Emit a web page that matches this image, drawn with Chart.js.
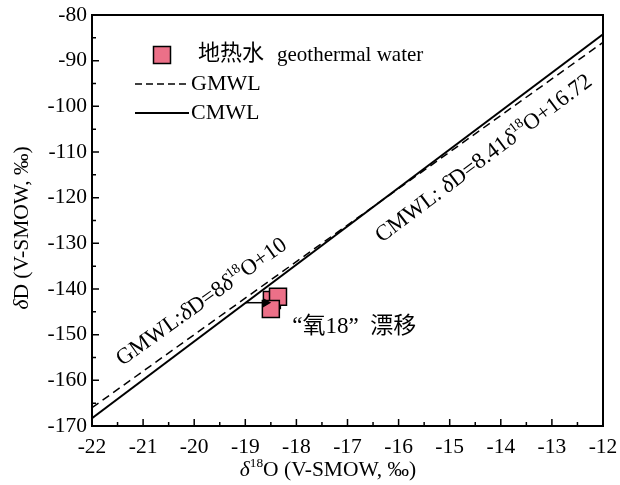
<!DOCTYPE html>
<html>
<head>
<meta charset="utf-8">
<script src="https://cdn.jsdelivr.net/npm/chart.js@4/dist/chart.umd.min.js"></script>
<style>
  html, body { margin: 0; padding: 0; background: #fff; }
  canvas { display: block; }
</style>
</head>
<body>
<canvas id="c" width="620" height="485"></canvas>
<script>
const SERIF = "'Liberation Serif', 'Times New Roman', serif";
const MIXED = "'Liberation Serif', 'Noto Sans CJK SC', serif";
const PINK = '#EC7088';

// Geothermal water samples (δ18O, δD in ‰ V-SMOW)
const sampleO18 = [-18.48, -18.36, -18.50];
const sampleD   = [-142.4, -141.7, -144.4];

// Meteoric water lines: δD = slope · δ18O + intercept
const lineNames      = ['GMWL', 'CMWL'];
const lineSlopes     = [8, 8.41];
const lineIntercepts = [10, 16.72];
const lineSpan       = [-22, -12];

// Oxygen-18 shift arrow (from the local line to the samples)
const shiftO18 = [-19.0, -18.6];
const shiftD   = [-143.0, -143.0];

// Axis ticks
const xTicks = [-22, -21, -20, -19, -18, -17, -16, -15, -14, -13, -12];
const yTicks = [-170, -160, -150, -140, -130, -120, -110, -100, -90, -80];

const toPoints = (xs, ys) => xs.map((x, i) => ({ x, y: ys[i] }));
const linePoints = k => lineSpan.map(x => ({ x, y: lineSlopes[k] * x + lineIntercepts[k] }));

// Draw a run of text pieces: [text, style] with style '' | 'i' (italic) | 'sup'
function richWidth(ctx, segs, size, family) {
  let w = 0;
  segs.forEach(([t, s]) => {
    const fs = s === 'sup' ? size * 0.62 : size;
    ctx.font = (s === 'i' ? 'italic ' : '') + fs + 'px ' + family;
    w += ctx.measureText(t).width;
  });
  return w;
}
function drawRich(ctx, segs, size, family, x, y, align) {
  const total = richWidth(ctx, segs, size, family);
  let cx = align === 'center' ? x - total / 2 : x;
  ctx.textBaseline = 'middle';
  ctx.textAlign = 'left';
  segs.forEach(([t, s]) => {
    const fs = s === 'sup' ? size * 0.62 : size;
    ctx.font = (s === 'i' ? 'italic ' : '') + fs + 'px ' + family;
    const dy = s === 'sup' ? -size * 0.3 : 0;
    ctx.fillText(t, cx, y + dy);
    cx += ctx.measureText(t).width;
  });
}

const equationSegs = k => [
  [lineNames[k] + (k === 0 ? ':' : ': '), ''],
  ['δ', 'i'], ['D=' + lineSlopes[k], ''],
  ['δ', 'i'], ['18', 'sup'],
  ['O+' + lineIntercepts[k], '']
];

const decorations = {
  id: 'decorations',
  afterDatasetsDraw(chart) {
    const { ctx, chartArea: a, scales: { x, y } } = chart;
    ctx.save();
    ctx.fillStyle = '#000';
    ctx.strokeStyle = '#000';

    // frame
    ctx.lineWidth = 2;
    ctx.setLineDash([]);
    ctx.strokeRect(a.left, a.top, a.right - a.left, a.bottom - a.top);

    // inward major and minor ticks on left and bottom
    ctx.lineWidth = 1.5;
    ctx.beginPath();
    xTicks.forEach((v, i) => {
      const px = x.getPixelForValue(v);
      ctx.moveTo(px, a.bottom); ctx.lineTo(px, a.bottom - 7);
      if (i < xTicks.length - 1) {
        const mx = x.getPixelForValue(v + 0.5);
        ctx.moveTo(mx, a.bottom); ctx.lineTo(mx, a.bottom - 4);
      }
    });
    yTicks.forEach((v, i) => {
      const py = y.getPixelForValue(v);
      ctx.moveTo(a.left, py); ctx.lineTo(a.left + 7, py);
      if (i < yTicks.length - 1) {
        const my = y.getPixelForValue(v + 5);
        ctx.moveTo(a.left, my); ctx.lineTo(a.left + 4, my);
      }
    });
    ctx.stroke();

    // equation labels along the water lines
    const labelAt = [-19.6, -14.66];
    const labelOffset = [-22, 28];
    [0, 1].forEach(k => {
      const x0 = x.getPixelForValue(lineSpan[0]);
      const x1 = x.getPixelForValue(lineSpan[1]);
      const y0 = y.getPixelForValue(lineSlopes[k] * lineSpan[0] + lineIntercepts[k]);
      const y1 = y.getPixelForValue(lineSlopes[k] * lineSpan[1] + lineIntercepts[k]);
      const ang = Math.atan2(y1 - y0, x1 - x0);
      const lx = x.getPixelForValue(labelAt[k]);
      const ly = y.getPixelForValue(lineSlopes[k] * labelAt[k] + lineIntercepts[k]);
      const nx = -Math.sin(ang), ny = Math.cos(ang);
      ctx.save();
      ctx.translate(lx + nx * labelOffset[k], ly + ny * labelOffset[k]);
      ctx.rotate(ang);
      drawRich(ctx, equationSegs(k), 22.5, SERIF, 0, 0, 'center');
      ctx.restore();
    });

    // oxygen-18 shift note
    ctx.font = '23px ' + MIXED;
    ctx.textBaseline = 'middle';
    ctx.textAlign = 'left';
    ctx.fillText('“氧18”  漂移', x.getPixelForValue(-18.08), y.getPixelForValue(-148.4));

    // legend
    ctx.fillStyle = PINK;
    ctx.fillRect(153.5, 46.5, 17, 17);
    ctx.lineWidth = 1.5;
    ctx.strokeRect(153.5, 46.5, 17, 17);
    ctx.fillStyle = '#000';
    ctx.font = '22px ' + MIXED;
    ctx.fillText('地热水', 198, 54);
    ctx.font = '21px ' + SERIF;
    ctx.fillText('geothermal water', 277, 55);
    ctx.font = '22px ' + SERIF;
    ctx.fillText('GMWL', 191, 84);
    ctx.fillText('CMWL', 191, 113);
    ctx.lineWidth = 1.5;
    ctx.setLineDash([7, 4]);
    ctx.beginPath(); ctx.moveTo(135, 84); ctx.lineTo(189, 84); ctx.stroke();
    ctx.setLineDash([]);
    ctx.lineWidth = 2;
    ctx.beginPath(); ctx.moveTo(135, 113); ctx.lineTo(189, 113); ctx.stroke();

    // axis titles
    drawRich(ctx, [['δ', 'i'], ['18', 'sup'], ['O (V-SMOW, ‰)', '']], 21.5, SERIF,
             328, 470, 'center');
    ctx.save();
    ctx.translate(22, 228);
    ctx.rotate(-Math.PI / 2);
    drawRich(ctx, [['δ', 'i'], ['D (V-SMOW, ‰)', '']], 21.5, SERIF, 0, 0, 'center');
    ctx.restore();

    ctx.restore();
  }
};

new Chart(document.getElementById('c'), {
  type: 'scatter',
  data: {
    datasets: [
      {
        label: 'shift',
        type: 'line',
        data: toPoints(shiftO18, shiftD),
        borderColor: '#000',
        borderWidth: 1.5,
        pointStyle: 'triangle',
        rotation: 90,
        pointRadius: [0, 4],
        pointBackgroundColor: '#000',
        pointBorderColor: '#000',
        fill: false
      },
      {
        label: '地热水 geothermal water',
        data: toPoints(sampleO18, sampleD),
        pointStyle: 'rect',
        pointRadius: 12,
        pointHoverRadius: 12,
        backgroundColor: PINK,
        borderColor: '#000',
        borderWidth: 1.5
      },
      {
        label: lineNames[0],
        type: 'line',
        data: linePoints(0),
        borderColor: '#000',
        borderWidth: 1.5,
        borderDash: [8, 5],
        pointRadius: 0,
        fill: false
      },
      {
        label: lineNames[1],
        type: 'line',
        data: linePoints(1),
        borderColor: '#000',
        borderWidth: 2,
        pointRadius: 0,
        fill: false
      }
    ]
  },
  options: {
    responsive: false,
    animation: false,
    events: [],
    layout: { autoPadding: false, padding: { top: 15, right: 17, left: 0, bottom: 0 } },
    plugins: { legend: { display: false }, tooltip: { enabled: false } },
    scales: {
      x: {
        type: 'linear',
        min: xTicks[0],
        max: xTicks[xTicks.length - 1],
        afterBuildTicks: s => { s.ticks = xTicks.map(v => ({ value: v })); },
        afterFit: s => { s.height = 59; s.paddingLeft = 0; s.paddingRight = 0; },
        grid: { display: false, drawTicks: false },
        border: { display: false },
        ticks: { color: '#000', padding: 8, maxRotation: 0, font: { family: SERIF, size: 21.5 } }
      },
      y: {
        type: 'linear',
        min: yTicks[0],
        max: yTicks[yTicks.length - 1],
        afterBuildTicks: s => { s.ticks = yTicks.map(v => ({ value: v })); },
        afterFit: s => { s.width = 92; s.paddingTop = 0; s.paddingBottom = 0; },
        grid: { display: false, drawTicks: false },
        border: { display: false },
        ticks: { color: '#000', padding: 5, font: { family: SERIF, size: 21.5 } }
      }
    }
  },
  plugins: [decorations]
});
</script>
</body>
</html>
